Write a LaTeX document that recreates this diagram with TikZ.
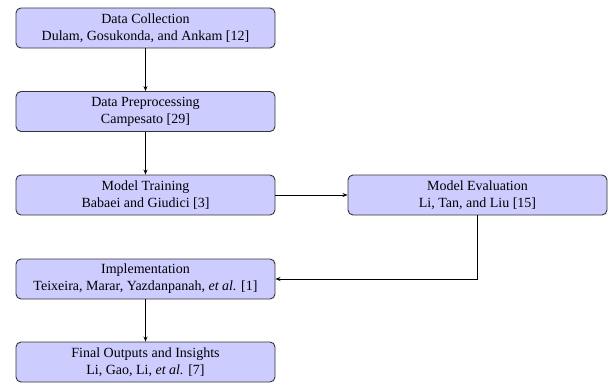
\documentclass[tikz,border=0pt]{standalone}
\usepackage{fontspec}
\setmainfont{Liberation Serif}
\usetikzlibrary{arrows.meta}
\tikzset{
  stage/.style={draw=black!80, fill=blue!20, rounded corners=5pt, line width=0.9pt,
    minimum width=259pt, minimum height=40pt, align=center, inner sep=2pt,
    font=\fontsize{14}{17}\selectfont},
  conn/.style={-{Stealth[length=5pt,width=4pt]}, line width=0.8pt, black}
}
\begin{document}
\begin{tikzpicture}[x=1pt,y=1pt]
\useasboundingbox (0,0) rectangle (608,-386);
\node[stage] (dc) at (145.5,-28) {Data Collection\\Dulam, Gosukonda, and Ankam [12]};
\node[stage] (dp) at (145.5,-111.5) {Data Preprocessing\\Campesato [29]};
\node[stage] (mt) at (145.5,-195) {Model Training\\Babaei and Giudici [3]};
\node[stage] (me) at (477.5,-195) {Model Evaluation\\Li, Tan, and Liu [15]};
\node[stage] (im) at (145.5,-279) {Implementation\\Teixeira, Marar, Yazdanpanah, \textit{et al.} [1]};
\node[stage] (fo) at (145.5,-362) {Final Outputs and Insights\\Li, Gao, Li, \textit{et al.} [7]};
\draw[conn] (dc) -- (dp);
\draw[conn] (dp) -- (mt);
\draw[conn] (mt) -- (me);
\draw[conn] (me.south) |- (im.east);
\draw[conn] (im) -- (fo);
\end{tikzpicture}
\end{document}
